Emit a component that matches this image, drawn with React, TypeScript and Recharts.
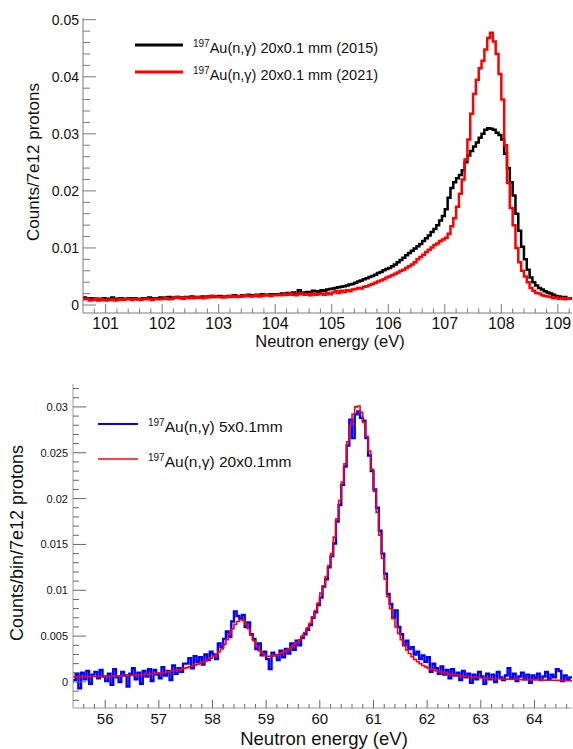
import React from 'react';
import { LineChart, Line, XAxis, YAxis } from 'recharts';

const FONT = '"Liberation Sans", Arial, Helvetica, sans-serif';

// ---------------- Top panel: 197Au(n,g) 20x0.1 mm, 2015 vs 2021 ----------------
const topBinStart = 100.6;
const topBinWidth = 0.05;
const topXDomain: [number, number] = [100.6, 109.25];
const topYDomain: [number, number] = [-0.0014, 0.0503];
const topXMajor = [101, 102, 103, 104, 105, 106, 107, 108, 109];
const topYMajor = [0, 0.01, 0.02, 0.03, 0.04, 0.05];
const topXTitle = 'Neutron energy (eV)';
const topYTitle = 'Counts/7e12 protons';
const topLegend = ['Au(n,\u03b3) 20x0.1 mm (2015)', 'Au(n,\u03b3) 20x0.1 mm (2021)'];

const au2015 = [
  13e-4, 12e-4, 11e-4, 12e-4, 10e-4, 11e-4, 9e-4, 12e-4,
  10e-4, 11e-4, 13e-4, 10e-4, 11e-4, 12e-4, 10e-4, 11e-4, 12e-4, 11e-4, 12e-4, 10e-4, 11e-4, 12e-4, 11e-4, 13e-4, 12e-4, 11e-4, 12e-4, 13e-4,
  12e-4, 13e-4, 14e-4, 12e-4, 13e-4, 14e-4, 13e-4, 12e-4, 14e-4, 13e-4, 15e-4, 14e-4, 13e-4, 14e-4, 15e-4, 14e-4, 15e-4, 16e-4, 14e-4, 15e-4,
  16e-4, 15e-4, 14e-4, 16e-4, 15e-4, 17e-4, 16e-4, 15e-4, 17e-4, 16e-4, 18e-4, 17e-4, 16e-4, 18e-4, 17e-4, 19e-4, 18e-4, 17e-4, 19e-4, 18e-4,
  19e-4, 18e-4, 20e-4, 19e-4, 21e-4, 20e-4, 22e-4, 19e-4, 26e-4, 21e-4, 22e-4, 23e-4, 22e-4, 25e-4, 24e-4, 23e-4, 26e-4, 25e-4, 27e-4, 28e-4,
  29e-4, 30e-4, 31e-4, 32e-4, 33e-4, 34e-4, 36e-4, 37e-4, 39e-4, 41e-4, 43e-4, 45e-4, 47e-4, 49e-4, 51e-4, 53e-4, 56e-4, 58e-4, 61e-4, 63e-4,
  65e-4, 68e-4, 71e-4, 75e-4, 79e-4, 83e-4, 87e-4, 91e-4, 95e-4, 99e-4, 103e-4, 107e-4, 112e-4, 117e-4, 122e-4, 128e-4, 133e-4, 140e-4, 148e-4, 156e-4,
  168e-4, 188e-4, 205e-4, 215e-4, 222e-4, 228e-4, 236e-4, 250e-4, 262e-4, 270e-4, 278e-4, 285e-4, 293e-4, 300e-4, 307e-4, 310e-4, 309e-4, 307e-4, 302e-4, 298e-4,
  290e-4, 265e-4, 240e-4, 215e-4, 192e-4, 160e-4, 130e-4, 102e-4, 80e-4, 62e-4, 48e-4, 40e-4, 34e-4, 30e-4, 27e-4, 24e-4, 22e-4, 20e-4, 18e-4, 16e-4,
  15e-4, 13e-4, 14e-4, 12e-4, 12e-4,
];

const au2021 = [
  10e-4, 11e-4, 8e-4, 9e-4, 11e-4, 8e-4, 10e-4, 9e-4,
  8e-4, 9e-4, 10e-4, 8e-4, 9e-4, 10e-4, 9e-4, 11e-4, 10e-4, 9e-4, 11e-4, 10e-4, 9e-4, 10e-4, 11e-4, 10e-4, 9e-4, 11e-4, 10e-4, 10e-4,
  11e-4, 12e-4, 10e-4, 11e-4, 13e-4, 14e-4, 12e-4, 11e-4, 13e-4, 12e-4, 13e-4, 12e-4, 14e-4, 13e-4, 12e-4, 14e-4, 13e-4, 15e-4, 16e-4, 14e-4,
  14e-4, 13e-4, 15e-4, 14e-4, 16e-4, 15e-4, 14e-4, 16e-4, 15e-4, 17e-4, 16e-4, 15e-4, 16e-4, 17e-4, 15e-4, 16e-4, 18e-4, 17e-4, 16e-4, 17e-4,
  17e-4, 18e-4, 17e-4, 19e-4, 18e-4, 20e-4, 18e-4, 17e-4, 19e-4, 20e-4, 18e-4, 19e-4, 17e-4, 20e-4, 18e-4, 19e-4, 20e-4, 18e-4, 21e-4, 19e-4,
  22e-4, 24e-4, 21e-4, 25e-4, 23e-4, 26e-4, 24e-4, 27e-4, 28e-4, 30e-4, 29e-4, 32e-4, 33e-4, 35e-4, 37e-4, 39e-4, 41e-4, 43e-4, 45e-4, 48e-4,
  50e-4, 52e-4, 55e-4, 57e-4, 60e-4, 62e-4, 65e-4, 68e-4, 71e-4, 75e-4, 80e-4, 84e-4, 88e-4, 93e-4, 97e-4, 101e-4, 105e-4, 108e-4, 112e-4, 115e-4,
  118e-4, 125e-4, 138e-4, 152e-4, 172e-4, 195e-4, 220e-4, 255e-4, 290e-4, 335e-4, 370e-4, 395e-4, 415e-4, 428e-4, 448e-4, 468e-4, 477e-4, 462e-4, 440e-4, 405e-4,
  360e-4, 280e-4, 214e-4, 170e-4, 140e-4, 100e-4, 75e-4, 60e-4, 50e-4, 40e-4, 30e-4, 25e-4, 21e-4, 20e-4, 17e-4, 16e-4, 15e-4, 14e-4, 12e-4, 13e-4,
  11e-4, 12e-4, 10e-4, 12e-4, 11e-4,
];

// ---------------- Bottom panel: 5x0.1mm vs 20x0.1mm ----------------
const botBinStart = 55.4;
const botBinWidth = 0.05;
const botXDomain: [number, number] = [55.4, 64.7];
const botYDomain: [number, number] = [-0.00284, 0.0325];
const botXMajor = [56, 57, 58, 59, 60, 61, 62, 63, 64];
const botYMajor = [0, 0.005, 0.01, 0.015, 0.02, 0.025, 0.03];
const botXTitle = 'Neutron energy (eV)';
const botYTitle = 'Counts/bin/7e12 protons';
const botLegend = ['Au(n,\u03b3) 5x0.1mm', 'Au(n,\u03b3) 20x0.1mm'];

const au5 = [
  2e-4, 9e-4, -7e-4, 10e-4, 3e-4, 12e-4, -2e-4, 8e-4, 11e-4, 4e-4, 13e-4, 6e-4,
  1e-4, 9e-4, -3e-4, 14e-4, 5e-4, 0, 11e-4, 7e-4, -5e-4, 9e-4, 15e-4, 3e-4, 10e-4, -2e-4, 12e-4, 6e-4, 14e-4, 1e-4, 13e-4, 8e-4,
  4e-4, 16e-4, 7e-4, 12e-4, 2e-4, 18e-4, 9e-4, 15e-4, 11e-4, 20e-4, 20e-4, 26e-4, 15e-4, 28e-4, 22e-4, 27e-4, 19e-4, 30e-4, 24e-4, 33e-4,
  30e-4, 25e-4, 42e-4, 38e-4, 47e-4, 55e-4, 49e-4, 66e-4, 77e-4, 72e-4, 69e-4, 73e-4, 60e-4, 65e-4, 52e-4, 47e-4, 36e-4, 42e-4, 29e-4, 33e-4,
  25e-4, 14e-4, 32e-4, 29e-4, 24e-4, 34e-4, 27e-4, 36e-4, 31e-4, 42e-4, 35e-4, 45e-4, 40e-4, 48e-4, 52e-4, 57e-4, 62e-4, 70e-4, 76e-4, 84e-4,
  92e-4, 104e-4, 112e-4, 125e-4, 137e-4, 151e-4, 175e-4, 193e-4, 215e-4, 235e-4, 258e-4, 286e-4, 266e-4, 292e-4, 295e-4, 288e-4, 285e-4, 266e-4, 247e-4, 230e-4,
  210e-4, 190e-4, 165e-4, 140e-4, 118e-4, 96e-4, 85e-4, 70e-4, 78e-4, 60e-4, 52e-4, 40e-4, 45e-4, 36e-4, 38e-4, 30e-4, 33e-4, 25e-4, 29e-4, 22e-4,
  27e-4, 11e-4, 20e-4, 15e-4, 9e-4, 17e-4, 8e-4, 13e-4, 4e-4, 14e-4, 7e-4, 10e-4, 2e-4, 12e-4, 5e-4, 9e-4, -1e-4, 8e-4, 3e-4, 11e-4,
  6e-4, -2e-4, 9e-4, 3e-4, 8e-4, 0, 11e-4, 5e-4, 2e-4, 7e-4, 15e-4, 4e-4, 9e-4, 1e-4, 6e-4, 10e-4, 3e-4, 8e-4, -1e-4, 7e-4,
  4e-4, 9e-4, 2e-4, 6e-4, 11e-4, 3e-4, 8e-4, 5e-4, 14e-4, 12e-4, 1e-4, 7e-4, 3e-4, 5e-4,
];

const au20 = [
  5.5e-4, 5.6e-4, 5.6e-4, 5.7e-4, 5.7e-4, 5.8e-4, 5.8e-4, 5.9e-4, 5.9e-4, 6.0e-4, 6.0e-4, 6.1e-4,
  6.1e-4, 6.2e-4, 6.3e-4, 6.4e-4, 6.5e-4, 6.6e-4, 6.7e-4, 6.8e-4, 6.9e-4, 7.0e-4, 7.2e-4, 7.4e-4, 7.6e-4, 7.8e-4, 8.0e-4, 8.3e-4, 8.6e-4, 8.9e-4, 9.2e-4, 9.6e-4,
  10e-4, 10.4e-4, 10.8e-4, 11.2e-4, 11.7e-4, 12.2e-4, 12.8e-4, 13.4e-4, 14e-4, 14.8e-4, 15.6e-4, 16.5e-4, 17.4e-4, 18.4e-4, 19.5e-4, 20.6e-4, 21.8e-4, 23e-4, 24.5e-4, 26e-4,
  28e-4, 30e-4, 33e-4, 36e-4, 41e-4, 46e-4, 52e-4, 58e-4, 63e-4, 66e-4, 68e-4, 67e-4, 63e-4, 58e-4, 51e-4, 45e-4, 39e-4, 34e-4, 31e-4, 29e-4,
  28e-4, 28e-4, 28.5e-4, 29e-4, 30e-4, 31e-4, 32.5e-4, 34e-4, 36e-4, 38e-4, 40.5e-4, 43e-4, 46e-4, 50e-4, 54e-4, 59e-4, 64e-4, 71e-4, 78e-4, 86e-4,
  97e-4, 105e-4, 115e-4, 127e-4, 140e-4, 158e-4, 178e-4, 198e-4, 218e-4, 238e-4, 262e-4, 280e-4, 292e-4, 300e-4, 301e-4, 294e-4, 283e-4, 268e-4, 252e-4, 232e-4,
  208e-4, 185e-4, 160e-4, 135e-4, 112e-4, 93e-4, 80e-4, 69e-4, 60e-4, 53e-4, 46e-4, 40e-4, 35e-4, 31e-4, 27.5e-4, 24.5e-4, 22e-4, 20e-4, 18e-4, 16.5e-4,
  15e-4, 14e-4, 13e-4, 12e-4, 11.2e-4, 10.5e-4, 9.8e-4, 9.2e-4, 8.6e-4, 8.1e-4, 7.6e-4, 7.2e-4, 6.8e-4, 6.4e-4, 6.0e-4, 5.7e-4, 5.4e-4, 5.1e-4, 4.9e-4, 4.6e-4,
  4.4e-4, 4.2e-4, 4.1e-4, 3.9e-4, 3.8e-4, 3.6e-4, 3.5e-4, 3.4e-4, 3.3e-4, 3.2e-4, 3.1e-4, 3.0e-4, 2.9e-4, 2.8e-4, 2.7e-4, 2.6e-4, 2.5e-4, 2.5e-4, 2.4e-4, 2.3e-4,
  2.2e-4, 2.2e-4, 2.1e-4, 2.0e-4, 2.0e-4, 1.9e-4, 1.8e-4, 1.8e-4, 1.7e-4, 1.7e-4, 1.6e-4, 1.6e-4, 1.5e-4, 1.5e-4,
];

// ---------------- helpers ----------------
const rnd = (v: number) => Math.round(v * 1e6) / 1e6;
const range = (a: number, b: number, s: number) => {
  const out: number[] = [];
  for (let i = 0; ; i++) {
    const v = rnd(a + i * s);
    if (v > b + 1e-9) break;
    out.push(v);
  }
  return out;
};
const merge = (majors: number[], minors: number[]) =>
  Array.from(new Set([...majors, ...minors].map(rnd))).sort((a, b) => a - b);
const isMajor = (majors: number[], v: number) => majors.some((m) => Math.abs(m - v) < 1e-7);

const buildHist = (start: number, width: number, end: number, keys: string[], series: number[][]) => {
  const rows: any[] = series[0].map((_, i) => {
    const r: any = { x: rnd(start + i * width) };
    keys.forEach((k, j) => (r[k] = series[j][i]));
    return r;
  });
  const last: any = { x: end };
  keys.forEach((k, j) => (last[k] = series[j][series[j].length - 1]));
  rows.push(last);
  return rows;
};

const topData = buildHist(topBinStart, topBinWidth, topXDomain[1], ['y2015', 'y2021'], [au2015, au2021]);
const botData = buildHist(botBinStart, botBinWidth, botXDomain[1], ['thin', 'thick'], [au5, au20]);

type Side = 'bottom' | 'top' | 'left' | 'right';
interface TickCfg {
  side: Side;
  majors: number[];
  majorLen: number;
  minorLen: number;
  stroke: string;
  labels?: boolean;
  fontSize?: number;
  gap?: number;
}
const makeTick = (c: TickCfg) => (p: any) => {
  const { x, y, payload } = p;
  const v = payload.value;
  const mj = isMajor(c.majors, v);
  const len = mj ? c.majorLen : c.minorLen;
  let ln: any;
  if (c.side === 'bottom') ln = <line x1={x} x2={x} y1={y} y2={y - len} stroke={c.stroke} />;
  else if (c.side === 'top') ln = <line x1={x} x2={x} y1={y} y2={y + len} stroke={c.stroke} />;
  else if (c.side === 'left') ln = <line x1={x} x2={x + len} y1={y} y2={y} stroke={c.stroke} />;
  else ln = <line x1={x} x2={x - len} y1={y} y2={y} stroke={c.stroke} />;
  let lab: any = null;
  const fs = c.fontSize || 14;
  if (c.labels && mj) {
    if (c.side === 'bottom')
      lab = (
        <text x={x} y={y + (c.gap || 0)} textAnchor="middle" fontSize={fs} fontFamily={FONT} fill="#111">
          {String(v)}
        </text>
      );
    else if (c.side === 'left')
      lab = (
        <text x={x - (c.gap || 0)} y={y + fs * 0.36} textAnchor="end" fontSize={fs} fontFamily={FONT} fill="#111">
          {String(v)}
        </text>
      );
  }
  return (
    <g>
      {ln}
      {lab}
    </g>
  );
};

const TOP_FRAME = '#7a7a7a';
const BOT_FRAME = '#9a9a9a';

const topXTicks = merge(topXMajor, range(100.8, 109.2, 0.2));
const topYTicks = merge(topYMajor, range(0, 0.05, 0.002));
const botXTicks = merge(botXMajor, range(55.6, 64.6, 0.2));
const botYTicks = merge(botYMajor, range(-0.002, 0.032, 0.001));

function TopChart() {
  return (
    <LineChart width={573} height={360} data={topData} margin={{ top: 18, right: 1, left: 23, bottom: 17 }}>
      <XAxis
        type="number"
        dataKey="x"
        domain={topXDomain}
        allowDataOverflow
        ticks={topXTicks}
        interval={0}
        height={30}
        tickLine={false}
        tickSize={0}
        tickMargin={0}
        axisLine={{ stroke: TOP_FRAME }}
        tick={makeTick({ side: 'bottom', majors: topXMajor, majorLen: 9, minorLen: 4.5, stroke: TOP_FRAME, labels: true, fontSize: 16, gap: 16 })}
      />
      <XAxis
        xAxisId="top"
        orientation="top"
        type="number"
        dataKey="x"
        domain={topXDomain}
        allowDataOverflow
        ticks={topXTicks}
        interval={0}
        height={0}
        tickLine={false}
        tickSize={0}
        tickMargin={0}
        axisLine={{ stroke: TOP_FRAME }}
        tick={makeTick({ side: 'top', majors: topXMajor, majorLen: 8, minorLen: 4, stroke: TOP_FRAME })}
      />
      <YAxis
        type="number"
        domain={topYDomain}
        allowDataOverflow
        ticks={topYTicks}
        interval={0}
        width={60}
        tickLine={false}
        tickSize={0}
        tickMargin={0}
        axisLine={{ stroke: TOP_FRAME }}
        tick={makeTick({ side: 'left', majors: topYMajor, majorLen: 13, minorLen: 7, stroke: TOP_FRAME, labels: true, fontSize: 14, gap: 4 })}
      />
      <YAxis
        yAxisId="right"
        orientation="right"
        type="number"
        domain={topYDomain}
        allowDataOverflow
        ticks={topYTicks}
        interval={0}
        width={0}
        tickLine={false}
        tickSize={0}
        tickMargin={0}
        axisLine={{ stroke: TOP_FRAME }}
        tick={makeTick({ side: 'right', majors: topYMajor, majorLen: 14, minorLen: 8, stroke: TOP_FRAME })}
      />
      <Line dataKey="y2015" type="stepAfter" stroke="#000000" strokeWidth={2.5} dot={false} activeDot={false} isAnimationActive={false} />
      <Line dataKey="y2021" type="stepAfter" stroke="#ff0000" strokeWidth={2.5} dot={false} activeDot={false} isAnimationActive={false} />
    </LineChart>
  );
}

function BottomChart() {
  return (
    <LineChart width={573} height={379} data={botData} margin={{ top: 14, right: 1, left: 13, bottom: 11 }}>
      <XAxis
        type="number"
        dataKey="x"
        domain={botXDomain}
        allowDataOverflow
        ticks={botXTicks}
        interval={0}
        height={30}
        tickLine={false}
        tickSize={0}
        tickMargin={0}
        axisLine={{ stroke: BOT_FRAME }}
        tick={makeTick({ side: 'bottom', majors: botXMajor, majorLen: 8, minorLen: 4, stroke: '#666', labels: true, fontSize: 15, gap: 16 })}
      />
      <XAxis xAxisId="top" orientation="top" type="number" dataKey="x" domain={botXDomain} allowDataOverflow height={0} tick={false} tickLine={false} axisLine={{ stroke: BOT_FRAME }} />
      <YAxis
        type="number"
        domain={botYDomain}
        allowDataOverflow
        ticks={botYTicks}
        interval={0}
        width={60}
        tickLine={false}
        tickSize={0}
        tickMargin={0}
        axisLine={{ stroke: BOT_FRAME }}
        tick={makeTick({ side: 'left', majors: botYMajor, majorLen: 13, minorLen: 6, stroke: '#666', labels: true, fontSize: 11, gap: 5 })}
      />
      <YAxis yAxisId="right" orientation="right" type="number" domain={botYDomain} allowDataOverflow width={0} tick={false} tickLine={false} axisLine={{ stroke: BOT_FRAME }} />
      <Line dataKey="thin" type="stepAfter" stroke="#0000ff" strokeWidth={2.4} dot={false} activeDot={false} isAnimationActive={false} />
      <Line dataKey="thick" type="stepAfter" stroke="#ff0000" strokeWidth={1.6} dot={false} activeDot={false} isAnimationActive={false} />
    </LineChart>
  );
}

function LegendEntry({ x, y, color, width, len, text, fs, sup }: any) {
  return (
    <g>
      <line x1={x} x2={x + len} y1={y} y2={y} stroke={color} strokeWidth={width} />
      <text x={x + len + 10} y={y + 8} fontFamily={FONT} fontSize={fs} fill="#111">
        <tspan fontSize={sup} dy={-6}>197</tspan>
        <tspan dy={6}>{text}</tspan>
      </text>
    </g>
  );
}

export default function App() {
  return (
    <div style={{ position: 'absolute', left: 0, top: 0, width: 573, height: 749, background: '#fff', overflow: 'hidden' }}>
      <div style={{ position: 'absolute', left: 0, top: 0 }}>
        <TopChart />
      </div>
      <div style={{ position: 'absolute', left: 0, top: 370 }}>
        <BottomChart />
      </div>
      <svg width={573} height={749} style={{ position: 'absolute', left: 0, top: 0, pointerEvents: 'none' }}>
        <LegendEntry x={135} y={45} color="#000000" width={3} len={48} text={topLegend[0]} fs={14.5} sup={10} />
        <LegendEntry x={135} y={72} color="#ff0000" width={3} len={48} text={topLegend[1]} fs={14.5} sup={10} />
        <text x={330} y={347} textAnchor="middle" fontFamily={FONT} fontSize={16.5} fill="#111">{topXTitle}</text>
        <text transform="translate(39,162) rotate(-90)" textAnchor="middle" fontFamily={FONT} fontSize={17} fill="#111">{topYTitle}</text>

        <LegendEntry x={98} y={424} color="#0000ff" width={2} len={40} text={botLegend[0]} fs={15.5} sup={10} />
        <LegendEntry x={98} y={459} color="#ff0000" width={1.6} len={40} text={botLegend[1]} fs={15.5} sup={10} />
        <text x={324} y={745} textAnchor="middle" fontFamily={FONT} fontSize={18.5} fill="#111">{botXTitle}</text>
        <text transform="translate(23,543) rotate(-90)" textAnchor="middle" fontFamily={FONT} fontSize={18} fill="#111">{botYTitle}</text>
      </svg>
    </div>
  );
}
